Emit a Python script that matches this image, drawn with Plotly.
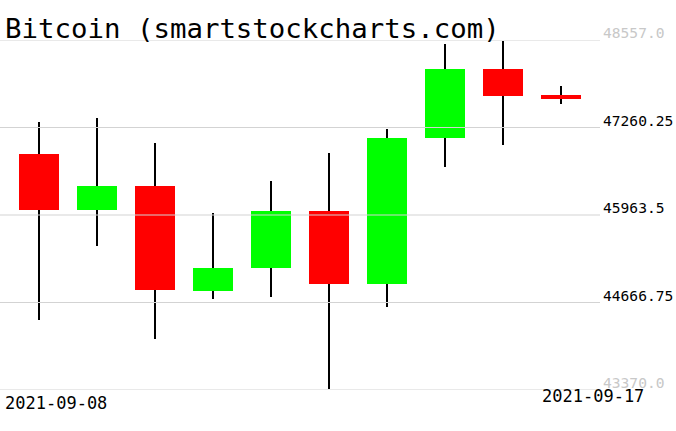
import plotly.graph_objects as go

dates = ["2021-09-08", "2021-09-09", "2021-09-10", "2021-09-11", "2021-09-12",
         "2021-09-13", "2021-09-14", "2021-09-15", "2021-09-16", "2021-09-17"]
opens = [46869, 46044, 46395, 44830, 45171, 46025, 44934, 47100, 48128, 47743]
highs = [47343, 47402, 47032, 45991, 46469, 46884, 47239, 48498, 48542, 47876]
lows = [44401, 45511, 44119, 44712, 44741, 43379, 44593, 46681, 47007, 47609]
closes = [46044, 46395, 44845, 45181, 46025, 44934, 47106, 48128, 47732, 47683]
y_ticks = [43370.0, 44666.75, 45963.5, 47260.25, 48557.0]
y_tick_labels = ["43370.0", "44666.75", "45963.5", "47260.25", "48557.0"]
title_text = "Bitcoin (smartstockcharts.com)"

FONT = "DejaVu Sans Mono"
UP = "#00ff00"
DOWN = "#ff0000"

fig = go.Figure()

# wicks (thin bars, drawn first so bodies cover them)
fig.add_trace(go.Bar(
    x=dates, base=lows, y=[h - l for h, l in zip(highs, lows)],
    width=0.034, marker=dict(color="black", line=dict(width=0)),
    hoverinfo="skip", showlegend=False,
))

# bodies
fig.add_trace(go.Bar(
    x=dates,
    base=[min(o, c) for o, c in zip(opens, closes)],
    y=[abs(c - o) for o, c in zip(opens, closes)],
    width=0.69,
    marker=dict(color=[UP if c >= o else DOWN for o, c in zip(opens, closes)],
                line=dict(width=0)),
    showlegend=False,
))

# gridlines above traces
for t in y_ticks:
    fig.add_shape(type="line", xref="paper", yref="y", x0=0, x1=1, y0=t, y1=t,
                  line=dict(color="#d3d3d3", width=1), layer="above")

annotations = []
tick_colors = ["#c8c8c8", "black", "black", "black", "#c8c8c8"]
for t, lab, col in zip(y_ticks, y_tick_labels, tick_colors):
    annotations.append(dict(x=1.0, xref="paper", y=t, yref="y", text=lab,
                            xanchor="left", yanchor="bottom", showarrow=False,
                            xshift=1, yshift=-3,
                            font=dict(family=FONT, size=14.6, color=col)))
# date labels
annotations.append(dict(x=0, xref="paper", y=0, yref="paper", text=dates[0],
                        xanchor="left", yanchor="top", showarrow=False,
                        xshift=3, yshift=-1,
                        font=dict(family=FONT, size=17, color="black")))
annotations.append(dict(x=dates[-1], xref="x", y=0, yref="paper", text=dates[-1],
                        xanchor="center", yanchor="top", showarrow=False,
                        xshift=32, yshift=6,
                        font=dict(family=FONT, size=17, color="black")))
# title
annotations.append(dict(x=0, xref="paper", y=1, yref="paper", text=title_text,
                        xanchor="left", yanchor="bottom", showarrow=False,
                        xshift=3, yshift=-6,
                        font=dict(family=FONT, size=27.4, color="black")))

fig.update_layout(
    width=676, height=431,
    margin=dict(l=0, r=76, t=40, b=41),
    paper_bgcolor="white", plot_bgcolor="white",
    bargap=0, barmode="overlay",
    xaxis=dict(type="category", range=[-0.678, 9.667], showgrid=False,
               showticklabels=False, zeroline=False, showline=False, ticks=""),
    yaxis=dict(range=[43370.0, 48557.0], showgrid=False, showticklabels=False,
               zeroline=False, showline=False, ticks="", side="right"),
    annotations=annotations,
    showlegend=False,
)

fig.write_html("out.html",
               config={"displayModeBar": False},
               post_script="document.body.style.margin='0';document.body.style.overflow='hidden';")
